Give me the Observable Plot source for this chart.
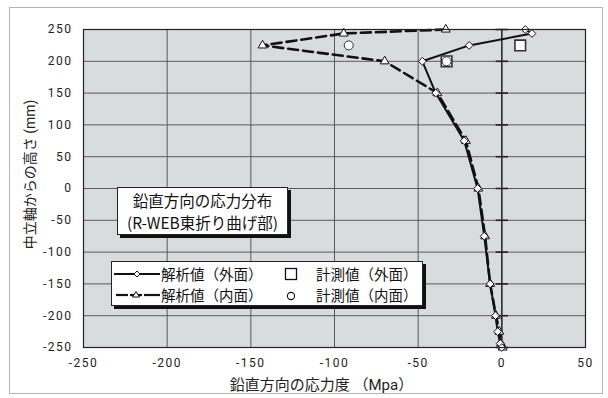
<!DOCTYPE html>
<html><head><meta charset="utf-8">
<script src="https://cdn.jsdelivr.net/npm/d3@7"></script>
<script src="https://cdn.jsdelivr.net/npm/@observablehq/plot@0.6"></script>
<style>
body{margin:0;background:#fff;}
#wrap{position:relative;width:608px;height:398px;background:#fff;overflow:hidden;}
#outer{position:absolute;left:9px;top:7px;width:592px;height:385px;border:1px solid #b5b5b5;}
#chart{position:absolute;left:0;top:0;}
.box{position:absolute;background:#fff;border:1px solid #222;box-shadow:3px 3px 0 #111;font-family:"Noto Sans CJK JP",sans-serif;color:#111;}
#note{left:117px;top:187px;width:171px;height:48px;font-size:15.5px;text-align:center;box-sizing:border-box;white-space:nowrap;}
#note div{position:absolute;left:0;right:0;height:22px;line-height:22px;}
#legend{left:111px;top:261px;width:312px;height:45px;font-size:14.5px;box-sizing:border-box;}
.row{position:absolute;left:0;height:20px;line-height:20px;white-space:nowrap;}
.row svg{position:absolute;top:0;}
.row span{position:absolute;top:0;}
</style></head>
<body>
<div id="wrap">
  <div id="outer"></div>
  <div id="chart"></div>
  <div class="box" id="note"></div>
  <div class="box" id="legend"></div>
</div>
<script>
// ---- data ----
const heights = [250, 243.75, 225, 200, 150, 75, 0, -75, -150, -200, -225, -243.75, -250];
const outerStress = [14, 18, -19.5, -47.5, -39.5, -22.5, -14.5, -10.5, -7, -3.8, -2.5, -1, 0];
const innerStress = [-33.5, -94.5, -143, -70, -38.5, -21.5, -14, -10, -7, -3.5, -1.5, -0.5, 0.5];
const measuredHeights = [225, 200];
const measuredOuter = [11, -33];
const measuredInner = [-91.5, -33];
const xTicks = [-250, -200, -150, -100, -50, 0, 50];
const yTicks = [-250, -200, -150, -100, -50, 0, 50, 100, 150, 200, 250];
const xLabel = "鉛直方向の応力度 （Mpa）";
const yLabel = "中立軸からの高さ (mm)";
const noteLines = ["鉛直方向の応力分布", "(R-WEB東折り曲げ部)"];
const legendNames = ["解析値（外面）", "解析値（内面）", "計測値（外面）", "計測値（内面）"];

const outerRows = heights.map((h, i) => ({x: outerStress[i], y: h}));
const innerRows = heights.map((h, i) => ({x: innerStress[i], y: h}));
const measOuterRows = measuredHeights.map((h, i) => ({x: measuredOuter[i], y: h}));
const measInnerRows = measuredHeights.map((h, i) => ({x: measuredInner[i], y: h}));

const hline = {draw(ctx, size) { const r = Math.sqrt(size); ctx.moveTo(-r, 0); ctx.lineTo(r, 0); }};
const fmt = d => `${d}`;

const chart = Plot.plot({
  width: 608, height: 398,
  marginLeft: 83, marginRight: 23, marginTop: 29, marginBottom: 51,
  style: {fontFamily: "Roboto, 'Noto Sans CJK JP', sans-serif", fontSize: "12px", background: "transparent", color: "#222"},
  x: {domain: [-250, 50], ticks: xTicks, tickFormat: fmt, tickSize: 0, tickPadding: 11, label: null},
  y: {domain: [-250, 250], ticks: yTicks, tickFormat: fmt, tickSize: 0, tickPadding: 11, label: null},
  marks: [
    Plot.frame({fill: "#d9dcdc"}),
    Plot.gridX(xTicks, {stroke: "#5a5a5a", strokeOpacity: 1, strokeWidth: 1}),
    Plot.gridY(yTicks, {stroke: "#5a5a5a", strokeOpacity: 1, strokeWidth: 1}),
    Plot.ruleX([0], {stroke: "#222", strokeWidth: 1.3}),
    Plot.dot(yTicks, {x: 0, y: d => d, symbol: hline, r: 3.5, stroke: "#222", strokeWidth: 1.6}),
    Plot.line(innerRows, {x: "x", y: "y", stroke: "#111", strokeWidth: 2.6, strokeDasharray: "10,5"}),
    Plot.line(outerRows, {x: "x", y: "y", stroke: "#111", strokeWidth: 2}),
    Plot.dot(innerRows, {x: "x", y: "y", symbol: "triangle", r: 3.3, fill: "#fff", stroke: "#111", strokeWidth: 1}),
    Plot.dot(outerRows, {x: "x", y: "y", symbol: "diamond2", r: 3.5, fill: "#fff", stroke: "#111", strokeWidth: 1}),
    Plot.dot(measOuterRows, {x: "x", y: "y", symbol: "square", r: 6, fill: "#fff", stroke: "#333", strokeWidth: 1.6}),
    Plot.dot(measInnerRows, {x: "x", y: "y", symbol: "circle", r: 4.5, fill: "#fff", stroke: "#333", strokeWidth: 1}),
    Plot.frame({stroke: "#222", strokeWidth: 1.2}),
    Plot.text([xLabel], {frameAnchor: "bottom", textAnchor: "middle", lineAnchor: "middle", dy: 38, dx: -13, fontSize: 15, fill: "#222"}),
    Plot.text([yLabel], {frameAnchor: "left", textAnchor: "middle", lineAnchor: "middle", rotate: -90, dx: -53, dy: -14, fontSize: 14, fill: "#222"})
  ]
});
chart.querySelectorAll('g[aria-label="x-axis tick label"] text, g[aria-label="y-axis tick label"] text').forEach(t => t.setAttribute("letter-spacing", "1.5"));
document.getElementById("chart").appendChild(chart);

// annotation box
document.getElementById("note").innerHTML = noteLines.map((s, i) => `<div style="top:${1 + i * 22}px">${s}</div>`).join("");

// legend
function sym(kind) {
  if (kind === "outer") return `<line x1="2" y1="10" x2="48" y2="10" stroke="#111" stroke-width="2"/><path d="M25,7 L28,10 L25,13 L22,10 Z" fill="#fff" stroke="#111" stroke-width="1"/>`;
  if (kind === "inner") return `<line x1="4" y1="10" x2="16" y2="10" stroke="#111" stroke-width="2.2"/><line x1="32" y1="10" x2="48" y2="10" stroke="#111" stroke-width="2.2"/><line x1="18" y1="10" x2="30" y2="10" stroke="#111" stroke-width="2.2"/><path d="M24,6.5 L27.5,12 L20.5,12 Z" fill="#fff" stroke="#111" stroke-width="1"/>`;
  if (kind === "square") return `<rect x="4.5" y="4.5" width="11" height="11" fill="#fff" stroke="#111" stroke-width="1.3"/>`;
  return `<circle cx="10" cy="11" r="3.6" fill="#fff" stroke="#111" stroke-width="1.1"/>`;
}
const rows = [
  [sym("outer"), legendNames[0], sym("square"), legendNames[2]],
  [sym("inner"), legendNames[1], sym("circle"), legendNames[3]]
];
document.getElementById("legend").innerHTML = rows.map((r, i) => `<div class="row" style="top:${2 + i * 21}px">
  <svg width="50" height="20" style="left:0">${r[0]}</svg>
  <span style="left:49px">${r[1]}</span>
  <svg width="20" height="20" style="left:169px">${r[2]}</svg>
  <span style="left:204px">${r[3]}</span></div>`).join("");
</script>
</body></html>
